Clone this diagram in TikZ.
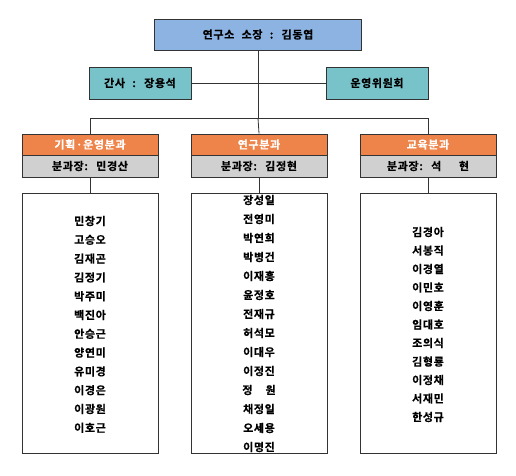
\documentclass[tikz,border=0pt]{standalone}
\usepackage{fontspec}
\newfontfamily\kr{Noto Sans CJK KR Bold}[WordSpace=2.3,FakeBold=0.6,LetterSpace=6]
\definecolor{topblue}{HTML}{8DB3E2}
\definecolor{tealbox}{HTML}{78C2CA}
\definecolor{orangebox}{HTML}{EE844A}
\definecolor{graybox}{HTML}{D0D0D0}
\begin{document}
\begin{tikzpicture}[x=1pt,y=-1pt,
  box/.style={draw=black!80,line width=0.8pt,inner sep=0pt,font=\kr\fontsize{11}{12}\selectfont},
  topbox/.style={box,fill=topblue,minimum width=207pt,minimum height=31pt},
  sidebox/.style={box,fill=tealbox,minimum width=102pt,minimum height=32pt},
  divhead/.style={box,fill=orangebox,text=white,minimum width=136pt,minimum height=21pt},
  divchief/.style={box,fill=graybox,minimum width=136pt,minimum height=22pt},
  memberbox/.style={draw=black!80,line width=0.8pt,minimum width=136pt,minimum height=260pt,inner sep=0pt},
  person/.style={inner sep=0pt,font=\kr\fontsize{11}{12}\selectfont},
  link/.style={draw=black!80,line width=0.8pt}]
\useasboundingbox (0,0) rectangle (516,475);
\node[topbox] (top) at (258,34.5) {연구소 소장 : 김동엽};
\node[sidebox] (sec) at (140,83) {간사 : 장용석};
\node[sidebox] (comm) at (377,83) {운영위원회};
\coordinate (mid) at (258,118);
\coordinate (lt) at (90,118);
\coordinate (rt) at (428,118);
\node[divhead] (h1) at (90,144.5) {기획·운영분과};
\node[divhead] (h2) at (259,144.5) {연구분과};
\node[divhead] (h3) at (428,144.5) {교육분과};
\node[divchief] (c1) at (90,166) {분과장: 민경산};
\node[divchief] (c2) at (259,166) {분과장: 김정현};
\node[divchief] (c3) at (428,166) {분과장: 석\hspace{1.6em}현};
\node[memberbox] (m1) at (90,323) {};
\node[memberbox] (m2) at (259,323) {};
\node[memberbox] (m3) at (428,323) {};
\draw[link] (top.south) -- (mid);
\draw[link] (sec.east) -- (comm.west);
\draw[link] (lt) -- (rt);
\draw[link] (lt) -- (h1.north);
\draw[link] (mid) -- (h2.north);
\draw[link] (rt) -- (h3.north);
\draw[link] (c1.south) -- (m1.north);
\draw[link] (c2.south) -- (m2.north);
\draw[link] (c3.south) -- (m3.north);
\foreach \n [count=\i from 0] in {민창기,고승오,김재곤,김정기,박주미,백진아,안승근,양연미,유미경,이경은,이광원,이호근}
  \node[person] (pa\i) at (90,221+\i*18.8) {\n};
\foreach \n [count=\i from 0] in {장성일,전영미,박연희,박병건,이재흥,윤정호,전재규,허석모,이대우,이정진,{정\hspace{1.2em}원},채정일,오세용,이명진}
  \node[person] (pb\i) at (259,200+\i*19) {\n};
\foreach \n [count=\i from 0] in {김경아,서봉직,이경열,이민호,이영훈,임대호,조의식,김형룡,이정채,서재민,한성규}
  \node[person] (pc\i) at (428,232+\i*18.5) {\n};
\end{tikzpicture}
\end{document}
